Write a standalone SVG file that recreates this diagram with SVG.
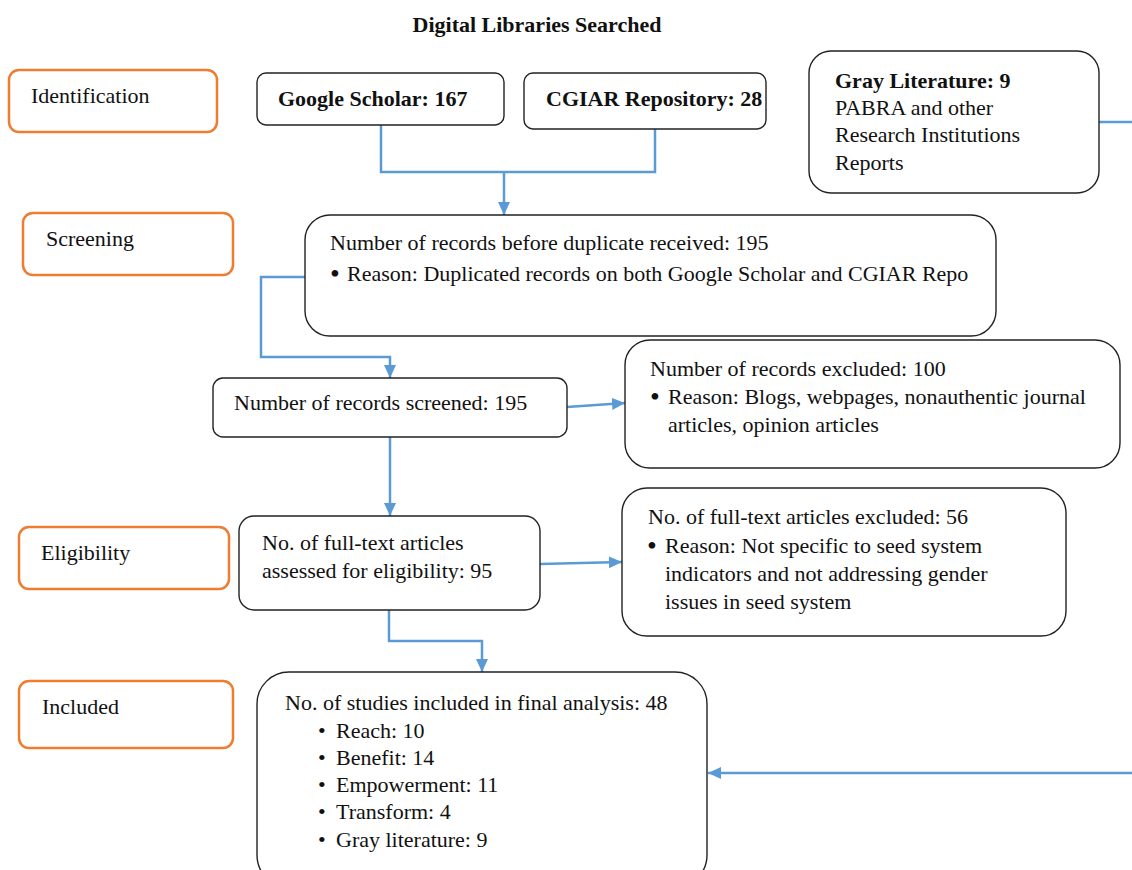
<svg xmlns="http://www.w3.org/2000/svg" width="1132" height="870" viewBox="0 0 1132 870">
<style>
text{font-family:"Liberation Serif","Times New Roman",serif;font-size:22px;fill:#111}
.b{font-weight:bold}
.bul{font-size:28px}
.stage{fill:#fff;stroke:#ED7D31;stroke-width:2.5}
.box{fill:#fff;stroke:#222;stroke-width:1.4}
.conn{fill:none;stroke:#5B9BD5;stroke-width:2.5}
</style>
<defs>
<marker id="ah" markerUnits="userSpaceOnUse" markerWidth="14" markerHeight="14" refX="13" refY="6" orient="auto">
<path d="M0,0 L13,6 L0,12 z" fill="#5B9BD5"/>
</marker>
</defs>
<rect width="1132" height="870" fill="#fff"/>
<text class="b" x="537" y="32" text-anchor="middle">Digital Libraries Searched</text>

<g id="identification"><rect class="stage" x="9" y="70" width="208" height="62" rx="10"/><text x="31" y="103">Identification</text></g>
<g id="screening"><rect class="stage" x="23" y="213" width="210" height="62" rx="10"/><text x="46" y="246">Screening</text></g>
<g id="eligibility"><rect class="stage" x="19" y="527" width="210" height="62" rx="10"/><text x="41" y="560">Eligibility</text></g>
<g id="included"><rect class="stage" x="19" y="681" width="214" height="67" rx="10"/><text x="42" y="714">Included</text></g>

<g id="connectors">
<polyline class="conn" points="381,125 381,172 655,172 655,129"/>
<line class="conn" x1="504" y1="172" x2="504" y2="215" marker-end="url(#ah)"/>
<polyline class="conn" points="305,277 261,277 261,357 390,357 390,378" marker-end="url(#ah)"/>
<line class="conn" x1="567" y1="407" x2="625" y2="403" marker-end="url(#ah)"/>
<line class="conn" x1="390" y1="437" x2="390" y2="516" marker-end="url(#ah)"/>
<line class="conn" x1="540" y1="564" x2="622" y2="562" marker-end="url(#ah)"/>
<polyline class="conn" points="389,610 389,641 482,641 482,672" marker-end="url(#ah)"/>
<line class="conn" x1="1099" y1="122" x2="1132" y2="122"/>
<line class="conn" x1="1132" y1="773" x2="708" y2="773" marker-end="url(#ah)"/>
</g>

<g id="google"><rect class="box" x="257" y="73" width="247" height="52" rx="9"/><text class="b" x="278" y="106">Google Scholar: 167</text></g>
<g id="cgiar"><rect class="box" x="524" y="73" width="242" height="56" rx="9"/><text class="b" x="546" y="106">CGIAR Repository: 28</text></g>
<g id="gray"><rect class="box" x="809" y="51" width="290" height="142" rx="22"/>
<text class="b" x="835" y="88">Gray Literature: 9</text>
<text x="835" y="115">PABRA and other</text>
<text x="835" y="142">Research Institutions</text>
<text x="835" y="170">Reports</text></g>

<g id="duplicates"><rect class="box" x="305" y="215" width="691" height="121" rx="25"/>
<text x="330" y="250">Number of records before duplicate received: 195</text>
<text class="bul" x="330" y="283">•</text>
<text x="347" y="281">Reason: Duplicated records on both Google Scholar and CGIAR Repo</text></g>

<g id="screened"><rect class="box" x="213" y="378" width="354" height="59" rx="10"/>
<text x="234" y="410">Number of records screened: 195</text></g>

<g id="excluded100"><rect class="box" x="625" y="340" width="495" height="128" rx="25"/>
<text x="650" y="376">Number of records excluded: 100</text>
<text class="bul" x="650" y="406">•</text>
<text x="668" y="404">Reason: Blogs, webpages, nonauthentic journal</text>
<text x="668" y="432">articles, opinion articles</text></g>

<g id="fulltext"><rect class="box" x="239" y="516" width="301" height="94" rx="15"/>
<text x="262" y="550">No. of full-text articles</text>
<text x="262" y="578">assessed for eligibility: 95</text></g>

<g id="excluded56"><rect class="box" x="622" y="488" width="444" height="148" rx="25"/>
<text x="648" y="524">No. of full-text articles excluded: 56</text>
<text class="bul" x="647" y="555">•</text>
<text x="665" y="553">Reason: Not specific to seed system</text>
<text x="665" y="581">indicators and not addressing gender</text>
<text x="665" y="609">issues in seed system</text></g>

<g id="final"><rect class="box" x="257" y="672" width="450" height="215" rx="32"/>
<text x="285" y="710">No. of studies included in final analysis: 48</text>
<text x="318" y="738">•</text><text x="336" y="738">Reach: 10</text>
<text x="318" y="765">•</text><text x="336" y="765">Benefit: 14</text>
<text x="318" y="792">•</text><text x="336" y="792">Empowerment: 11</text>
<text x="318" y="819">•</text><text x="336" y="819">Transform: 4</text>
<text x="318" y="847">•</text><text x="336" y="847">Gray literature: 9</text></g>
</svg>
